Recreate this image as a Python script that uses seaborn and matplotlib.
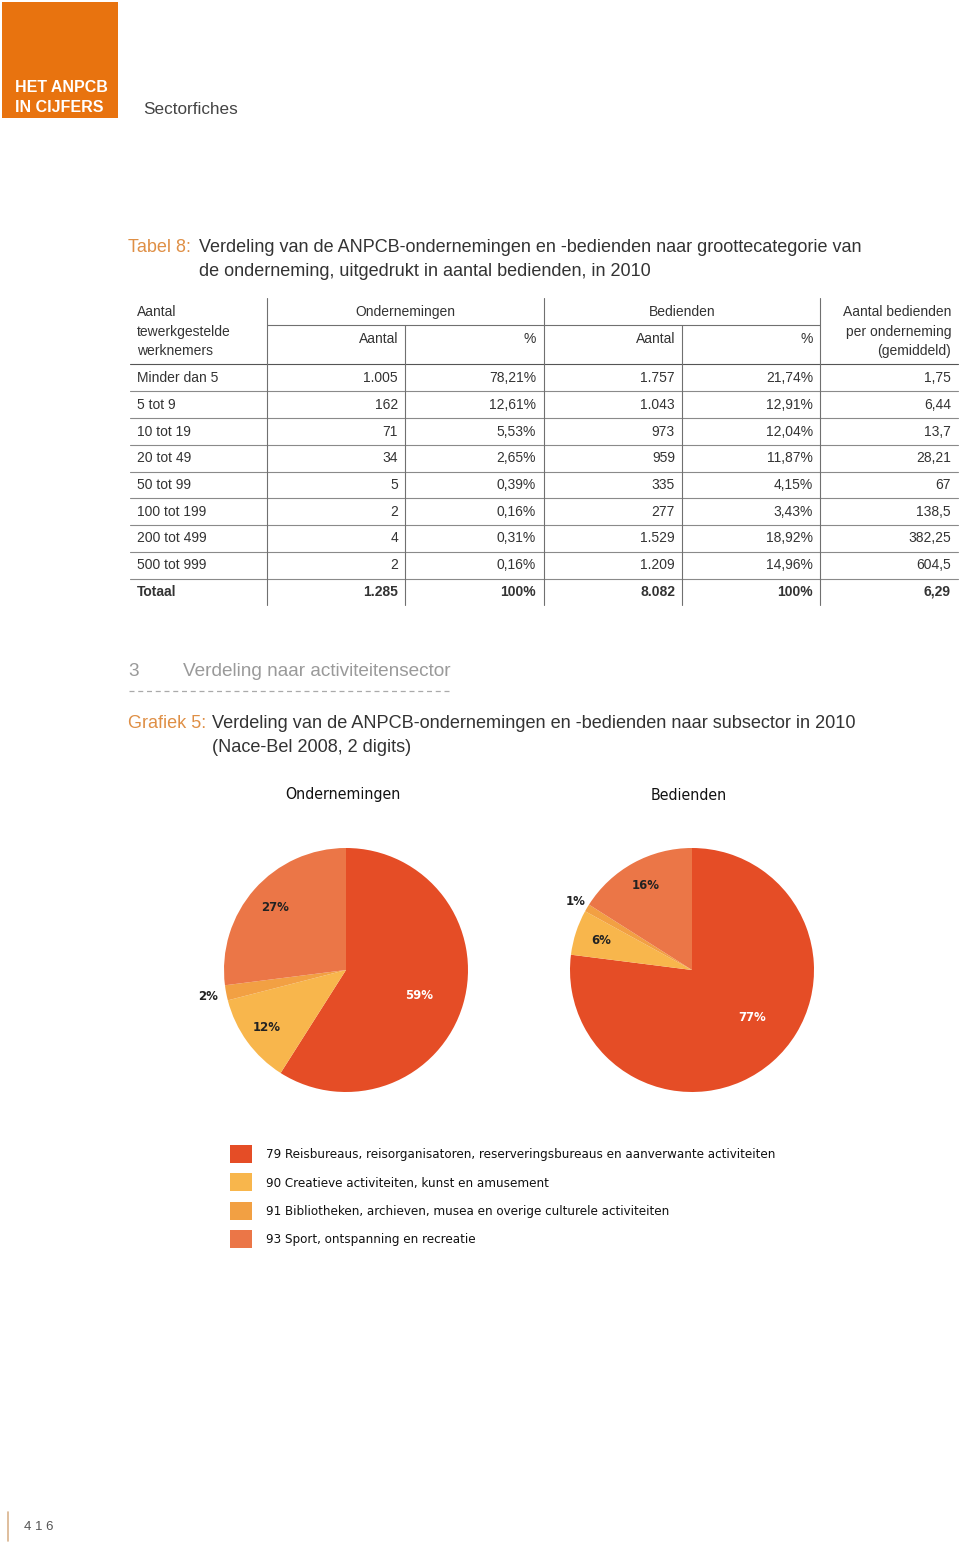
import os

import matplotlib

matplotlib.use("Agg")
import matplotlib.pyplot as plt
import numpy as np
import seaborn as sns
from matplotlib import font_manager
from matplotlib.font_manager import FontProperties
from matplotlib.lines import Line2D
from matplotlib.patches import Patch, Rectangle

W, H = 960, 1545

# --- Tabel 8 -------------------------------------------------------------
SIZE_CLASSES = ["Minder dan 5", "5 tot 9", "10 tot 19", "20 tot 49", "50 tot 99",
                "100 tot 199", "200 tot 499", "500 tot 999", "Totaal"]
OND_AANTAL = ["1.005", "162", "71", "34", "5", "2", "4", "2", "1.285"]
OND_PCT = ["78,21%", "12,61%", "5,53%", "2,65%", "0,39%", "0,16%", "0,31%", "0,16%", "100%"]
BED_AANTAL = ["1.757", "1.043", "973", "959", "335", "277", "1.529", "1.209", "8.082"]
BED_PCT = ["21,74%", "12,91%", "12,04%", "11,87%", "4,15%", "3,43%", "18,92%", "14,96%", "100%"]
BED_PER_OND = ["1,75", "6,44", "13,7", "28,21", "67", "138,5", "382,25", "604,5", "6,29"]

# --- Grafiek 5 -----------------------------------------------------------
SECTORS = [
    "79 Reisbureaus, reisorganisatoren, reserveringsbureaus en aanverwante activiteiten",
    "90 Creatieve activiteiten, kunst en amusement",
    "91 Bibliotheken, archieven, musea en overige culturele activiteiten",
    "93 Sport, ontspanning en recreatie",
]
ONDERNEMINGEN_SHARE = [59, 12, 2, 27]
BEDIENDEN_SHARE = [77, 6, 1, 16]
SECTOR_COLORS = ["#e54d26", "#f8b64c", "#f2a043", "#eb7647"]

ORANGE = "#e8730f"
TITLE_ORANGE = "#df8f45"
TEXT = "#333333"
LINE = "#707070"

sns.set_theme(style="white")
palette = sns.color_palette(SECTOR_COLORS)
plt.rcParams["font.family"] = ["Liberation Sans", "DejaVu Sans"]


def find_font(names):
    files = {os.path.basename(f.fname): f.fname for f in font_manager.fontManager.ttflist}
    for n in names:
        if n in files:
            return files[n]
    return None


# the chart part uses a condensed face, pick the narrowest one installed
NARROW_FILE = find_font(["LiberationSansNarrow-Regular.ttf", "NotoSans-Condensed.ttf",
                         "DejaVuSansCondensed.ttf"])
NARROW_BOLD_FILE = find_font(["LiberationSansNarrow-Bold.ttf", "NotoSans-CondensedBold.ttf",
                              "DejaVuSansCondensed-Bold.ttf"])


def narrow(size, bold=False):
    path = NARROW_BOLD_FILE if bold else NARROW_FILE
    if path:
        return FontProperties(fname=path, size=size)
    return FontProperties(family="Liberation Sans", size=size,
                          weight="bold" if bold else "normal")


def fx(x):
    return x / W


def fy(y):
    return 1 - y / H


def fitted_size(fig, s, target_px, bold=False):
    # font size (pt) that makes the string span target_px
    t = fig.text(0, 0, s, fontproperties=narrow(10, bold))
    w = t.get_window_extent(fig.canvas.get_renderer()).width
    t.remove()
    return 10 * target_px / w


def put(fig, x, y, s, **kw):
    kw.setdefault("color", TEXT)
    kw.setdefault("va", "center")
    if "fontproperties" not in kw:
        kw.setdefault("fontsize", 10)
    fig.text(fx(x), fy(y), s, **kw)


def hline(fig, x0, x1, y, **kw):
    kw.setdefault("color", LINE)
    kw.setdefault("linewidth", 0.8)
    fig.add_artist(Line2D([fx(x0), fx(x1)], [fy(y), fy(y)], transform=fig.transFigure, **kw))


def vline(fig, x, y0, y1, **kw):
    kw.setdefault("color", LINE)
    kw.setdefault("linewidth", 0.8)
    fig.add_artist(Line2D([fx(x), fx(x)], [fy(y0), fy(y1)], transform=fig.transFigure, **kw))


def draw_header(fig):
    fig.add_artist(Rectangle((fx(2), fy(118)), 116 / W, 116 / H,
                             transform=fig.transFigure, color=ORANGE, lw=0))
    put(fig, 15, 88, "HET ANPCB", color="white", fontsize=11.5, fontweight="bold")
    put(fig, 15, 107, "IN CIJFERS", color="white", fontsize=11.5, fontweight="bold")
    put(fig, 143, 110, "Sectorfiches", color="#444444", fontsize=12.3)


def draw_table(fig):
    put(fig, 128, 247, "Tabel 8:", color=TITLE_ORANGE, fontsize=13)
    put(fig, 199, 247, "Verdeling van de ANPCB-ondernemingen en -bedienden naar groottecategorie van",
        fontsize=13)
    put(fig, 199, 271, "de onderneming, uitgedrukt in aantal bedienden, in 2010", fontsize=13)

    # header
    put(fig, 137, 312, "Aantal")
    put(fig, 137, 332, "tewerkgestelde")
    put(fig, 137, 351, "werknemers")
    put(fig, 405, 312, "Ondernemingen", ha="center")
    put(fig, 682, 312, "Bedienden", ha="center")
    put(fig, 398, 339, "Aantal", ha="right")
    put(fig, 536, 339, "%", ha="right")
    put(fig, 675, 339, "Aantal", ha="right")
    put(fig, 813, 339, "%", ha="right")
    put(fig, 951, 312, "Aantal bedienden", ha="right")
    put(fig, 951, 332, "per onderneming", ha="right")
    put(fig, 951, 351, "(gemiddeld)", ha="right")

    hline(fig, 267, 820, 325)
    hline(fig, 130, 958, 364, color="#555555")

    right_edges = [398, 536, 675, 813, 951]
    columns = [OND_AANTAL, OND_PCT, BED_AANTAL, BED_PCT, BED_PER_OND]
    for i, label in enumerate(SIZE_CLASSES):
        y = 378 + 26.75 * i
        weight = "bold" if label == "Totaal" else "normal"
        put(fig, 137, y, label, fontweight=weight)
        for xr, col in zip(right_edges, columns):
            put(fig, xr, y, col[i], ha="right", fontweight=weight)
        if i < len(SIZE_CLASSES) - 1:
            hline(fig, 130, 958, y + 13.4, color="#8a8a8a")

    for x in (267, 544, 820):
        vline(fig, x, 298, 605)
    for x in (405, 682):
        vline(fig, x, 325, 605)


def draw_section(fig):
    put(fig, 128, 672, "3", color="#9a9a9a", fontsize=13.7)
    put(fig, 183, 672, "Verdeling naar activiteitensector", color="#9a9a9a", fontsize=13.7)
    hline(fig, 129, 452, 691, color="#aaaaaa", linestyle=(0, (4, 3)), linewidth=0.9)

    put(fig, 128, 724, "Grafiek 5:", color=TITLE_ORANGE, fontsize=13)
    put(fig, 212, 724, "Verdeling van de ANPCB-ondernemingen en -bedienden naar subsector in 2010",
        fontsize=13.1)
    put(fig, 212, 748, "(Nace-Bel 2008, 2 digits)", fontsize=13.1)


def draw_pie(fig, cx, cy, title, shares, label_dist, label_turn, label_size, title_size):
    r = 122
    side = 2.5 * r
    ax = fig.add_axes([fx(cx - side / 2), fy(cy + side / 2), side / W, side / H])
    wedges, _ = ax.pie(shares, colors=palette, startangle=90, counterclock=False,
                       wedgeprops={"linewidth": 0})
    for k, (w, share, d, turn) in enumerate(zip(wedges, shares, label_dist, label_turn)):
        mid = np.deg2rad((w.theta1 + w.theta2) / 2 + turn)
        ax.text(d * np.cos(mid), d * np.sin(mid), f"{share}%",
                ha="center", va="center", fontproperties=narrow(label_size, bold=True),
                color="white" if k == 0 else "#222222")
    put(fig, cx - 3, 795, title, ha="center", fontproperties=narrow(title_size),
        color="#111111")
    return ax


def main():
    fig = plt.figure(figsize=(W / 100, H / 100), dpi=100)
    fig.patch.set_facecolor("white")

    draw_header(fig)
    draw_table(fig)
    draw_section(fig)

    label_size = fitted_size(fig, "59%", 28, bold=True)
    title_size = fitted_size(fig, "Ondernemingen", 116)
    draw_pie(fig, 346, 970, "Ondernemingen", ONDERNEMINGEN_SHARE,
             [0.63, 0.80, 1.15, 0.78], [-3, 0, 0, 0], label_size, title_size)
    draw_pie(fig, 692, 970, "Bedienden", BEDIENDEN_SHARE,
             [0.63, 0.78, 1.11, 0.79], [10, 0, 0, 0], label_size, title_size)

    legend_size = fitted_size(fig, SECTORS[0], 505)
    fs_px = legend_size / 72 * 100
    hh = (18 / fs_px - 0.245) / 0.65
    handles = [Patch(facecolor=c, edgecolor="none") for c in palette]
    fig.legend(handles, SECTORS, loc="upper left",
               bbox_to_anchor=(fx(230), fy(1145)),
               frameon=False, borderpad=0, borderaxespad=0,
               prop=narrow(legend_size),
               labelcolor="#111111",
               handlelength=22 / fs_px, handleheight=hh,
               handletextpad=14 / fs_px, labelspacing=10.4 / fs_px)

    # page number
    vline(fig, 8, 1512, 1541, color="#d9b38c", linewidth=1.2)
    put(fig, 24, 1527, "4 1 6", color="#555555", fontsize=9.5)

    fig.savefig("out.png", dpi=100, facecolor="white")
    plt.close(fig)


if __name__ == "__main__":
    main()
